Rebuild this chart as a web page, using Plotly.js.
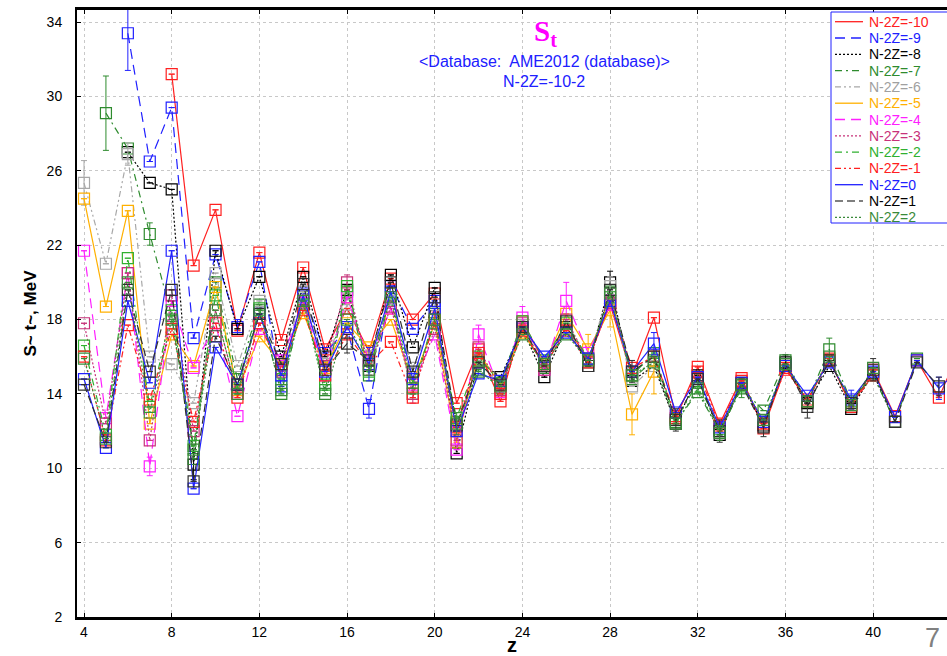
<!DOCTYPE html>
<html>
<head>
<meta charset="utf-8">
<script src="https://cdn.plot.ly/plotly-3.0.1.min.js"></script>
<style>
  html, body { margin: 0; padding: 0; background: #ffffff; }
  #chart { width: 947px; height: 656px; }
</style>
</head>
<body>
<div id="chart"></div>
<script>
// Proton number Z (x axis)
const Z = [4,5,6,7,8,9,10,11,12,13,14,15,16,17,18,19,20,21,22,23,24,
           25,26,27,28,29,30,31,32,33,34,35,36,37,38,39,40,41,42,43,44];

// S_t (MeV) for each isotopic chain N-2Z, aligned with Z (null = no value)
const nm10 = [null,null,null,null,31.2,20.9,23.9,17.4,21.6,16.9,20.8,16.4,18.6,16.3,20.2,18.0,19.4,13.5,16.4,13.6,17.9,
              15.7,17.6,15.9,18.8,15.0,18.1,12.7,15.45,12.4,14.85,12.15,15.4,13.6,15.9,13.3,15.3,12.8,15.8,13.8,16.5];
const nm9  = [null,null,33.4,26.5,29.4,17.0,21.5,17.6,21.1,14.4,19.4,16.2,17.5,13.2,19.8,17.5,19.0,null,null,null,null,
              null,null,null,null,null,null,null,null,null,null,null,null,null,null,null,null,null,null,null,null];
const nm8  = [null,null,27.0,25.35,25.0,10.2,21.7,17.5,20.3,16.0,20.3,16.0,19.6,15.5,20.4,16.5,19.7,10.8,15.8,14.9,17.5,
              14.9,17.6,15.5,20.0,14.7,15.5,12.4,15.0,11.8,14.6,12.3,15.7,13.5,15.5,13.2,15.1,12.5,null,null,null];
const nm7  = [null,29.1,27.2,22.6,18.2,10.5,20.0,14.8,18.8,14.0,19.2,14.2,19.5,15.0,19.0,14.0,18.3,12.5,15.3,14.3,17.5,
              15.4,17.5,15.7,19.5,14.8,15.8,12.5,14.1,12.0,14.3,13.1,15.8,13.6,16.4,13.6,15.0,12.5,15.9,null,null];
const nm6  = [25.35,21.0,26.9,16.0,15.6,13.5,20.5,15.5,19.0,15.5,19.5,15.6,18.8,16.0,19.0,15.4,18.2,12.0,15.8,14.4,17.7,
              15.6,17.5,15.7,19.8,14.4,15.5,null,null,null,null,null,null,null,null,null,null,null,null,null,null];
const nm5  = [24.5,18.7,23.85,12.4,17.2,15.5,19.75,14.2,17.1,15.6,18.35,15.4,17.8,16.5,18.0,14.6,17.8,11.4,16.2,14.5,17.3,
              15.6,18.3,16.4,18.5,12.9,15.2,null,null,null,null,null,null,null,null,null,null,null,null,null,null];
const nm4  = [21.7,12.7,20.5,10.1,19.0,15.4,17.8,12.8,17.5,15.8,18.9,15.0,19.2,15.8,18.6,14.5,17.2,11.0,17.2,14.1,18.1,
              15.3,19.0,16.2,18.8,null,null,null,null,null,null,null,null,null,null,null,null,null,null,null,null];
const nm3  = [17.8,12.4,20.5,11.5,19.3,12.0,18.5,14.0,17.8,15.2,19.0,15.5,20.0,15.3,18.7,14.0,17.5,11.5,16.5,14.2,17.8,
              15.3,18.0,15.8,18.9,null,null,null,null,null,null,null,null,null,null,null,null,null,null,null,null];
const nm2  = [16.6,11.8,21.3,13.3,18.5,11.2,19.3,14.3,18.6,14.8,18.8,14.5,19.8,15.2,19.4,14.6,17.8,12.7,16.0,14.6,17.9,
              15.8,17.8,15.9,19.2,15.0,16.2,12.6,14.6,12.1,14.4,null,null,null,null,null,null,null,null,null,null];
const nm1  = [16.0,11.5,17.7,13.7,17.5,12.5,17.8,13.8,17.8,15.3,18.5,15.0,17.2,15.6,16.8,13.8,18.0,12.2,16.2,14.0,17.4,
              15.5,17.4,15.7,19.0,15.4,16.0,12.8,15.2,12.3,14.7,12.4,15.3,13.7,15.8,13.4,15.0,null,null,null,null];
const n0   = [14.8,11.1,19.0,14.6,21.7,8.9,16.5,14.5,18.3,15.0,19.3,15.2,17.6,15.6,19.5,14.8,18.6,12.0,15.1,14.7,17.6,
              16.0,17.3,15.9,19.0,15.2,16.7,13.0,14.9,12.2,14.6,12.5,15.5,13.9,15.7,13.7,15.2,12.75,15.8,14.3,15.4];
const p1   = [14.5,11.4,19.6,15.2,19.6,9.3,17.1,14.5,18.3,15.6,19.9,15.3,16.7,15.8,20.0,15.2,19.2,12.3,15.7,14.5,17.6,
              15.5,17.9,15.5,19.6,15.2,16.0,12.6,14.8,12.0,14.5,12.2,15.6,13.3,15.8,13.5,15.3,12.5,15.7,14.4,null];
const p2   = [15.9,11.6,20.0,13.0,18.0,11.0,18.5,14.0,18.5,14.2,19.0,14.0,18.0,15.3,19.2,14.3,18.0,12.4,15.2,14.4,17.2,
              15.6,17.2,15.8,19.4,15.0,15.7,12.4,14.3,11.9,14.5,12.6,15.6,13.6,16.0,13.4,15.4,null,null,null,null];

// Uncertainties (MeV) keyed by Z; points not listed carry no error bar
const errNm10 = {31: 0.4, 37: 0.3, 44: 0.5};
const errNm9  = {6: 2.0, 11: 0.4, 17: 0.5};
const errNm8  = {9: 0.8, 28: 0.6, 36: 0.4};
const errNm7  = {5: 2.0, 7: 0.6, 34: 0.5, 38: 0.6};
const errNm6  = {4: 1.2, 6: 0.6, 28: 0.5};
const errNm5  = {27: 0.8, 28: 0.9, 29: 1.1, 30: 1.2};
const errNm4  = {22: 0.5, 24: 0.6, 26: 1.0, 7: 0.5};
const errNm3  = {16: 0.4, 19: 0.5};
const errNm2  = {32: 0.5, 35: 0.4};
const errNm1  = {20: 0.4};
const errN0   = {17: 0.9, 30: 0.6, 39: 0.5, 43: 0.6};
const errP1   = {16: 0.5, 29: 0.6, 31: 0.6, 33: 0.6, 35: 0.5, 37: 0.6, 40: 0.6, 43: 0.5};
const errP2   = {21: 0.6, 33: 0.4};

const seriesNames  = ['N-2Z=-10','N-2Z=-9','N-2Z=-8','N-2Z=-7','N-2Z=-6','N-2Z=-5','N-2Z=-4',
                      'N-2Z=-3','N-2Z=-2','N-2Z=-1','N-2Z=0','N-2Z=1','N-2Z=2'];
const seriesValues = [nm10, nm9, nm8, nm7, nm6, nm5, nm4, nm3, nm2, nm1, n0, p1, p2];
const seriesErrors = [errNm10, errNm9, errNm8, errNm7, errNm6, errNm5, errNm4, errNm3, errNm2, errNm1, errN0, errP1, errP2];

// Styles per chain
const lineColors = ['#ff2020','#2020ff','#000000','#2e8b2e','#a8a8a8','#ffb000','#ff20ff',
                    '#c8327a','#30b030','#ff2020','#2020ff','#303030','#3a8a3a'];
const textColors = ['#ff2020','#2020ff','#000000','#2e8b2e','#a0a0a0','#ffb000','#ff20ff',
                    '#c8327a','#30b030','#ff2020','#2020ff','#000000','#3a8a3a'];
const legendLineColors = ['#ff2020','#2020ff','#000000','#2e8b2e','#a8a8a8','#ffb000','#ff20ff',
                          '#c8327a','#30b030','#ff2020','#2020ff','#555555','#3a8a3a'];
const dashes = ['solid','10px,6px','2px,2px','7px,4px,2px,4px','6px,3px,2px,3px,2px,3px','solid','10px,6px',
                '2px,2px','7px,4px,2px,4px','6px,3px,2px,3px,2px,3px','solid','8px,4px','2px,2px'];

// Plot frame in pixels
const PL = 77, PT = 10, PW = 870, PH = 607;
const px = x => (x - PL) / PW;
const py = y => (PT + PH - y) / PH;

const FONT = 'Liberation Sans, Arial, sans-serif';

const traces = seriesValues.map((vals, i) => ({
  type: 'scatter',
  mode: 'lines+markers',
  x: Z,
  y: vals,
  name: seriesNames[i],
  showlegend: false,
  connectgaps: false,
  line: { color: lineColors[i], width: 1.2, dash: dashes[i] },
  marker: { symbol: 'square-open', size: 11, color: lineColors[i], line: { width: 1.2, color: lineColors[i] } },
  error_y: {
    type: 'data', visible: true,
    array: Z.map(z => seriesErrors[i][z] || 0),
    color: lineColors[i], thickness: 1, width: 3
  },
  hoverinfo: 'x+y+name'
}));

// Legend box drawn as shapes + labels
const shapes = [{
  type: 'rect', xref: 'paper', yref: 'paper', layer: 'above',
  x0: px(831), x1: px(1000), y0: py(223), y1: py(12),
  line: { color: '#2020ff', width: 1 }, fillcolor: '#ffffff'
}];
const annotations = [];
seriesNames.forEach((nm, i) => {
  const yy = 21.7 + 16.3 * i;
  shapes.push({
    type: 'line', xref: 'paper', yref: 'paper', layer: 'above',
    x0: px(835), x1: px(863), y0: py(yy), y1: py(yy),
    line: { color: legendLineColors[i], width: 1.3, dash: dashes[i] }
  });
  annotations.push({
    xref: 'paper', yref: 'paper', x: px(867), y: py(yy),
    xanchor: 'left', yanchor: 'middle', showarrow: false,
    text: nm, font: { family: FONT, size: 14, color: textColors[i] }
  });
});

// Titles
annotations.push(
  { xref: 'paper', yref: 'paper', x: px(545), y: py(33), xanchor: 'center', yanchor: 'middle', showarrow: false,
    text: '<b>S<sub>t</sub></b>', font: { family: 'Liberation Serif, Times New Roman, serif', size: 29, color: '#ff00ff' } },
  { xref: 'paper', yref: 'paper', x: px(544), y: py(61), xanchor: 'center', yanchor: 'middle', showarrow: false,
    text: '&lt;Database:&nbsp; AME2012 (database)&gt;', font: { family: FONT, size: 16, color: '#2020ff' } },
  { xref: 'paper', yref: 'paper', x: px(544), y: py(81), xanchor: 'center', yanchor: 'middle', showarrow: false,
    text: 'N-2Z=-10-2', font: { family: FONT, size: 16, color: '#2020ff' } },
  { xref: 'paper', yref: 'paper', x: px(932), y: py(638), xanchor: 'center', yanchor: 'middle', showarrow: false,
    text: '7', font: { family: FONT, size: 27, color: '#808080' } }
);

const layout = {
  width: 947, height: 656,
  margin: { l: PL, r: 947 - PL - PW, t: PT, b: 656 - PT - PH, pad: 0 },
  paper_bgcolor: '#ffffff', plot_bgcolor: '#ffffff',
  showlegend: false,
  xaxis: {
    range: [3.68, 43.37], tick0: 4, dtick: 4,
    showgrid: true, gridcolor: '#c8c8c8', gridwidth: 1, griddash: '3px,3px',
    zeroline: false, showline: true, linecolor: '#000000', linewidth: 3, mirror: 'ticks',
    ticks: 'inside', ticklen: 4, tickcolor: '#000000',
    tickfont: { family: FONT, size: 14, color: '#000000' },
    title: { text: '<b>z</b>', font: { family: FONT, size: 20, color: '#000000' }, standoff: 2 }
  },
  yaxis: {
    range: [2, 34.65], tick0: 2, dtick: 4,
    showgrid: true, gridcolor: '#c8c8c8', gridwidth: 1, griddash: '3px,3px',
    zeroline: false, showline: true, linecolor: '#000000', linewidth: 2,
    ticks: 'inside', ticklen: 4, tickcolor: '#000000', ticklabelstandoff: 10,
    tickfont: { family: FONT, size: 14, color: '#000000' },
    title: { text: '<b>S~ t~, MeV</b>', font: { family: FONT, size: 17, color: '#000000' }, standoff: 6 }
  },
  shapes: shapes,
  annotations: annotations
};

Plotly.newPlot('chart', traces, layout, { displayModeBar: false, staticPlot: true });
</script>
</body>
</html>
